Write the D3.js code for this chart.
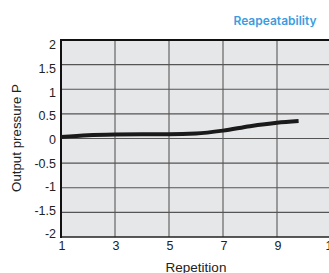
<!DOCTYPE html>
<html><head><meta charset="utf-8">
<script src="https://cdn.jsdelivr.net/npm/d3@7/dist/d3.min.js"></script>
<style>
html,body{margin:0;padding:0;background:#fff;overflow:hidden;}
svg{display:block;}
</style></head>
<body>
<svg id="c" width="329" height="273"></svg>
<script>
const repetition = [1, 2, 3, 4, 5, 6, 7, 8, 9, 9.8];
const pressure   = [0.03, 0.065, 0.08, 0.085, 0.085, 0.1, 0.16, 0.25, 0.32, 0.355];
const xTicks = [1, 3, 5, 7, 9, 11];
const yTicks = [2, 1.5, 1, 0.5, 0, -0.5, -1, -1.5, -2];
const title = "Reapeatability";
const xTitle = "Repetition";
const yTitle = "Output pressure P";

(function () {
const svg = d3.select("#c");
const pL = 61, pT = 40, pB = 237, pR = 331;
const x = d3.scaleLinear().domain([1, 11]).range([pL, pR]);
const y = d3.scaleLinear().domain([-2, 2]).range([pB, pT]);
const yLab = d3.scaleLinear().domain([-2, 2]).range([234, 45]);

svg.append("rect").attr("x", pL).attr("y", pT).attr("width", pR - pL).attr("height", pB - pT).attr("fill", "#e6e7e9");

// grid
svg.append("g").selectAll("line").data(xTicks.slice(1)).join("line")
  .attr("x1", d => x(d)).attr("x2", d => x(d)).attr("y1", pT).attr("y2", pB)
  .attr("stroke", "#666").attr("stroke-width", 1.2);
svg.append("g").selectAll("line").data(yTicks.slice(1, -1)).join("line")
  .attr("y1", d => y(d)).attr("y2", d => y(d)).attr("x1", pL).attr("x2", pR)
  .attr("stroke", "#555").attr("stroke-width", 1.2);

// borders
svg.append("line").attr("x1", pL).attr("x2", pR).attr("y1", pT).attr("y2", pT).attr("stroke", "#111").attr("stroke-width", 2.2);
svg.append("line").attr("x1", pL).attr("x2", pR).attr("y1", pB).attr("y2", pB).attr("stroke", "#222").attr("stroke-width", 1.6);
svg.append("line").attr("x1", pL).attr("x2", pL).attr("y1", pT - 1).attr("y2", pB + 1).attr("stroke", "#111").attr("stroke-width", 2);

// curve
const line = d3.line().x((d, i) => x(repetition[i])).y(d => y(d)).curve(d3.curveMonotoneX);
svg.append("path").datum(pressure).attr("d", line).attr("fill", "none")
  .attr("stroke", "#1a1a1a").attr("stroke-width", 4).attr("stroke-linecap", "butt");

const font = "'Liberation Sans', Arial, sans-serif";
// y labels
svg.append("g").selectAll("text").data(yTicks).join("text")
  .attr("x", 56).attr("y", d => yLab(d)).attr("dy", "0.35em")
  .attr("text-anchor", "end").attr("font-family", font).attr("font-size", 12.5).attr("fill", "#222")
  .text(d => String(d));
// x labels
svg.append("g").selectAll("text").data(xTicks).join("text")
  .attr("x", d => x(d) + 1).attr("y", 250)
  .attr("text-anchor", "middle").attr("font-family", font).attr("font-size", 12.5).attr("fill", "#222")
  .text(d => d);
// axis titles
svg.append("text").attr("x", 196).attr("y", 272).attr("text-anchor", "middle")
  .attr("font-family", font).attr("font-size", 13.5).attr("fill", "#222").text(xTitle);
svg.append("text").attr("transform", "translate(21,138) rotate(-90)").attr("text-anchor", "middle")
  .attr("font-family", font).attr("font-size", 13.3).attr("fill", "#222").text(yTitle);
// title
svg.append("text").attr("x", 275).attr("y", 25).attr("text-anchor", "middle")
  .attr("font-family", "Inter, 'Open Sans', sans-serif").attr("font-weight", 600).attr("font-size", 12)
  .attr("fill", "#3d9ce0").text(title);
})();
</script>
</body></html>
